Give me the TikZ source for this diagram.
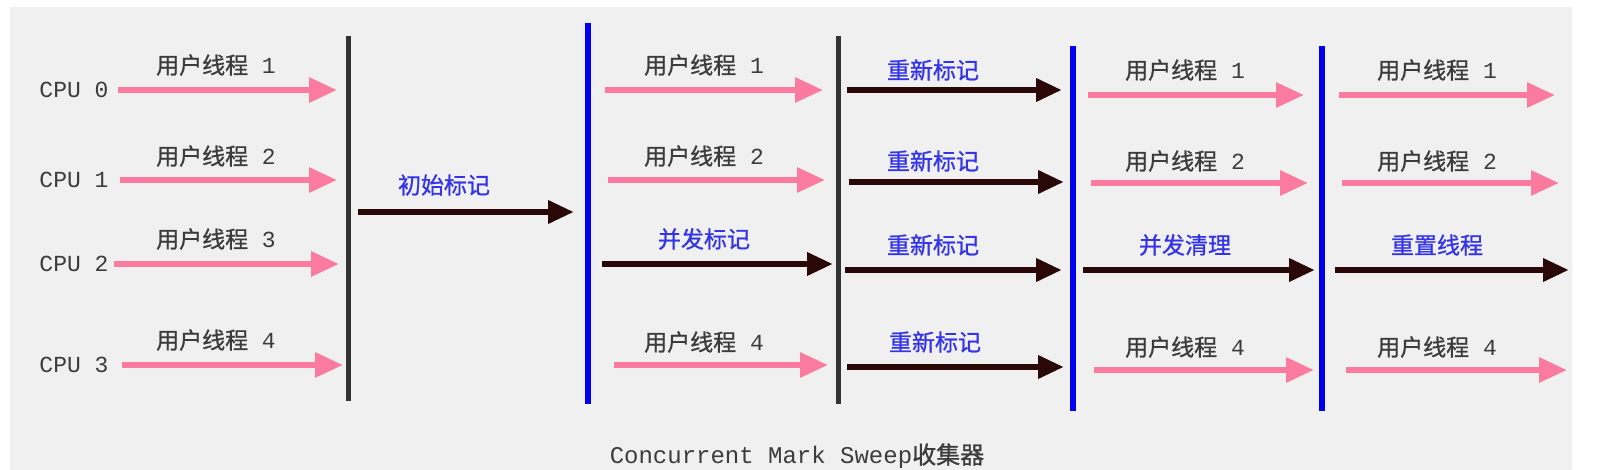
\documentclass[tikz,border=0pt]{standalone}
\usepackage{fontspec}
\setmonofont{Liberation Mono}
\newfontfamily\cjk[FakeBold=1]{Noto Sans CJK SC}
\usetikzlibrary{arrows.meta}
\definecolor{bgray}{HTML}{F0F0F0}
\definecolor{pinkline}{RGB}{250,122,160}
\definecolor{darkline}{HTML}{2B0808}
\definecolor{barblue}{HTML}{0000EE}
\definecolor{labblue}{HTML}{3535E8}
\definecolor{labgray}{HTML}{3C3C3C}

\begin{document}
\begin{tikzpicture}[
  x=0.5pt,y=-0.5pt,
  font=\fontsize{11.5}{13}\selectfont,
  pk/.style={draw=pinkline,line width=3pt,-{Triangle[length=14pt,width=12pt]}},
  dk/.style={draw=darkline,line width=3.4pt,-{Triangle[length=13pt,width=11pt]}},
  blackbar/.style={draw=black!80,line width=2.5pt},
  bluebar/.style={draw=barblue,line width=2.6pt},
  cpu/.style={text=labgray,font=\fontsize{11.5}{13}\selectfont\ttfamily},
  usr/.style={text=labgray,inner sep=1pt},
  phase/.style={text=labblue,inner sep=1pt},
]
\useasboundingbox (0,0) rectangle (1613,470);
\fill[white] (0,0) rectangle (1613,470);
\fill[bgray] (10,7) rectangle (1572,470);

% ---- phase bars -------------------------------------------------------
\coordinate (b1t) at (348,36);   \coordinate (b1b) at (348,401);
\coordinate (b2t) at (588,23);   \coordinate (b2b) at (588,404);
\coordinate (b3t) at (838,36);   \coordinate (b3b) at (838,404);
\coordinate (b4t) at (1073,46);  \coordinate (b4b) at (1073,411);
\coordinate (b5t) at (1322,46);  \coordinate (b5b) at (1322,411);
\draw[blackbar] (b1t) -- (b1b);
\draw[bluebar]  (b2t) -- (b2b);
\draw[blackbar] (b3t) -- (b3b);
\draw[bluebar]  (b4t) -- (b4b);
\draw[bluebar]  (b5t) -- (b5b);

% ---- CPUs and user threads before the initial mark -------------------
\node[cpu] (cpu0) at (74,90) {CPU 0};
\node[cpu] (cpu1) at (74,180) {CPU 1};
\node[cpu] (cpu2) at (74,264) {CPU 2};
\node[cpu] (cpu3) at (74,365) {CPU 3};
\node[usr] (u01) at (216,65)  {{\cjk 用户线程}\texttt{ 1}};
\node[usr] (u02) at (216,156) {{\cjk 用户线程}\texttt{ 2}};
\node[usr] (u03) at (216,239) {{\cjk 用户线程}\texttt{ 3}};
\node[usr] (u04) at (216,340) {{\cjk 用户线程}\texttt{ 4}};
\coordinate (e00) at (337,90);  \coordinate (e01) at (337,180);
\coordinate (e02) at (339,264); \coordinate (e03) at (343,365);
\draw[pk] ([xshift=1pt]cpu0.east) -- (e00);
\draw[pk] ([xshift=2pt]cpu1.east) -- (e01);
\draw[pk] ([xshift=-1pt]cpu2.east) -- (e02);
\draw[pk] ([xshift=3pt]cpu3.east) -- (e03);

% ---- initial mark ----------------------------------------------------
\node[phase] (init) at (444,185) {\cjk 初始标记};
\coordinate (s10) at (358,212); \coordinate (e10) at (574,212);
\draw[dk] (s10) -- (e10);

% ---- concurrent mark -------------------------------------------------
\node[usr] (u11) at (704,65)  {{\cjk 用户线程}\texttt{ 1}};
\node[usr] (u12) at (704,156) {{\cjk 用户线程}\texttt{ 2}};
\node[phase] (cmark) at (704,239) {\cjk 并发标记};
\node[usr] (u14) at (704,342) {{\cjk 用户线程}\texttt{ 4}};
\coordinate (s21) at (605,90);  \coordinate (e21) at (823,90);
\coordinate (s22) at (608,180); \coordinate (e22) at (825,180);
\coordinate (s23) at (602,264); \coordinate (e23) at (833,264);
\coordinate (s24) at (614,365); \coordinate (e24) at (828,365);
\draw[pk] (s21) -- (e21);
\draw[pk] (s22) -- (e22);
\draw[dk] (s23) -- (e23);
\draw[pk] (s24) -- (e24);

% ---- remark ----------------------------------------------------------
\node[phase] (rm1) at (933,70)  {\cjk 重新标记};
\node[phase] (rm2) at (933,161) {\cjk 重新标记};
\node[phase] (rm3) at (933,245) {\cjk 重新标记};
\node[phase] (rm4) at (935,342) {\cjk 重新标记};
\coordinate (s31) at (847,90);  \coordinate (e31) at (1062,90);
\coordinate (s32) at (849,182); \coordinate (e32) at (1064,182);
\coordinate (s33) at (845,270); \coordinate (e33) at (1062,270);
\coordinate (s34) at (847,367); \coordinate (e34) at (1064,367);
\draw[dk] (s31) -- (e31);
\draw[dk] (s32) -- (e32);
\draw[dk] (s33) -- (e33);
\draw[dk] (s34) -- (e34);

% ---- concurrent sweep ------------------------------------------------
\node[usr] (u41) at (1185,70)  {{\cjk 用户线程}\texttt{ 1}};
\node[usr] (u42) at (1185,161) {{\cjk 用户线程}\texttt{ 2}};
\node[phase] (sweep) at (1185,245) {\cjk 并发清理};
\node[usr] (u44) at (1185,347) {{\cjk 用户线程}\texttt{ 4}};
\coordinate (s41) at (1088,95);  \coordinate (e41) at (1304,95);
\coordinate (s42) at (1091,183); \coordinate (e42) at (1308,183);
\coordinate (s43) at (1083,270); \coordinate (e43) at (1315,270);
\coordinate (s44) at (1094,370); \coordinate (e44) at (1314,370);
\draw[pk] (s41) -- (e41);
\draw[pk] (s42) -- (e42);
\draw[dk] (s43) -- (e43);
\draw[pk] (s44) -- (e44);

% ---- reset -----------------------------------------------------------
\node[usr] (u51) at (1437,70)  {{\cjk 用户线程}\texttt{ 1}};
\node[usr] (u52) at (1437,161) {{\cjk 用户线程}\texttt{ 2}};
\node[phase] (reset) at (1437,245) {\cjk 重置线程};
\node[usr] (u54) at (1437,347) {{\cjk 用户线程}\texttt{ 4}};
\coordinate (s51) at (1339,95);  \coordinate (e51) at (1555,95);
\coordinate (s52) at (1342,183); \coordinate (e52) at (1559,183);
\coordinate (s53) at (1335,270); \coordinate (e53) at (1569,270);
\coordinate (s54) at (1346,370); \coordinate (e54) at (1567,370);
\draw[pk] (s51) -- (e51);
\draw[pk] (s52) -- (e52);
\draw[dk] (s53) -- (e53);
\draw[pk] (s54) -- (e54);

% ---- caption ---------------------------------------------------------
\node[text=labgray,font=\fontsize{12}{14}\selectfont] (cap) at (797,456)
  {\texttt{Concurrent Mark Sweep}{\cjk 收集器}};
\end{tikzpicture}
\end{document}
